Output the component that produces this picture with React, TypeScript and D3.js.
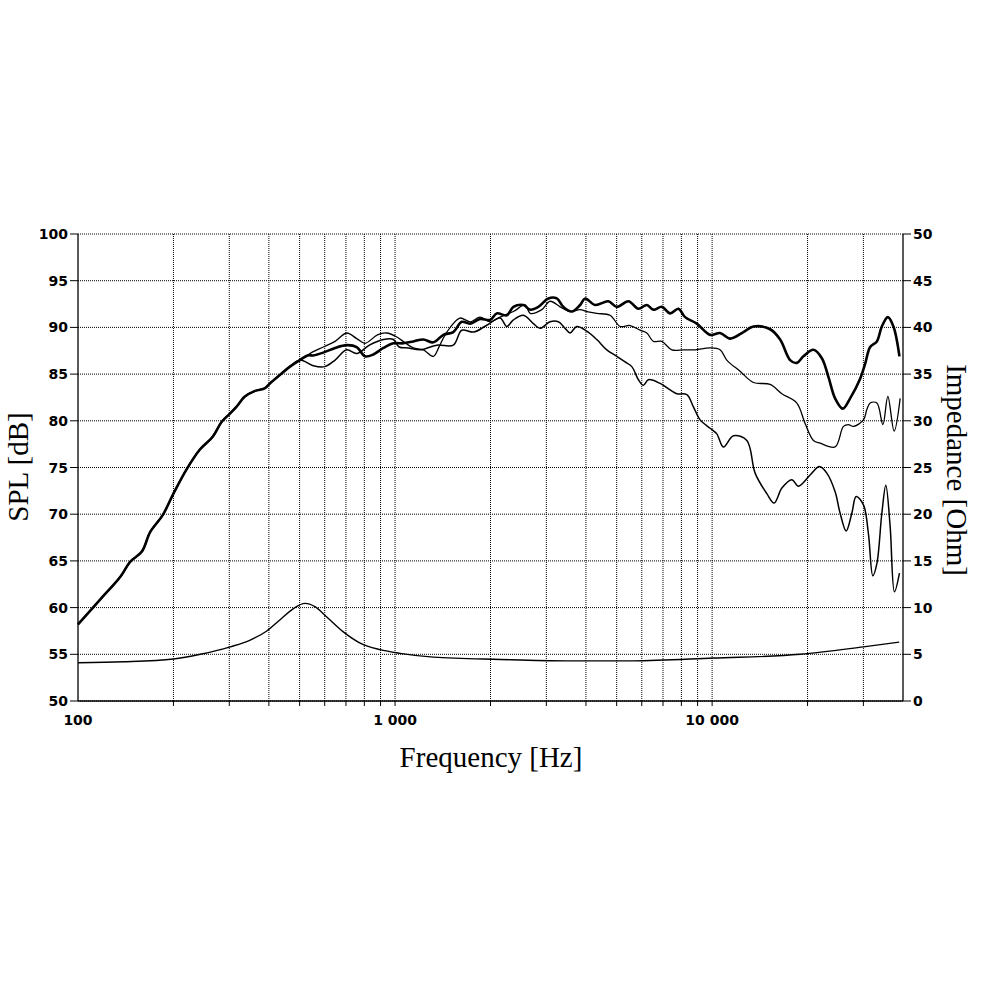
import * as d3 from "d3";

// frequency [Hz], SPL [dB]
const sharedLow: [number, number][] = [
  [100, 58.2], [117, 60.8], [136, 63.3], [146, 64.9], [159, 66.0], [169, 68.1],
  [185, 69.9], [200, 72.2], [220, 74.8], [242, 76.9], [266, 78.3], [284, 79.9],
  [302, 80.8], [316, 81.5], [336, 82.6], [362, 83.2], [389, 83.5], [403, 84.0],
  [433, 84.9], [466, 85.8], [501, 86.5],
];

const splOnAxis: [number, number][] = [
  [530, 87.0], [552, 87.0], [594, 87.3], [647, 87.8], [704, 88.1], [757, 87.9],
  [804, 86.9], [854, 87.1], [919, 87.8], [988, 88.3], [1062, 88.3], [1142, 88.5],
  [1228, 88.7], [1321, 88.4], [1420, 89.2], [1527, 89.5], [1623, 90.6], [1725, 90.4],
  [1854, 90.9], [1994, 90.8], [2093, 91.5], [2251, 91.3], [2362, 92.2], [2539, 92.4],
  [2667, 91.9], [2832, 92.2], [3045, 93.1], [3237, 93.1], [3395, 92.2], [3609, 91.7],
  [3834, 92.4], [3976, 93.1], [4275, 92.4], [4708, 92.8], [5004, 92.2], [5445, 92.8],
  [5855, 92.0], [6223, 92.4], [6530, 91.9], [6939, 92.2], [7370, 91.5], [7829, 92.0],
  [8218, 91.1], [8948, 90.4], [9856, 89.2], [10597, 89.4], [11400, 88.8], [12553, 89.5],
  [13499, 90.1], [15241, 89.8], [16390, 88.7], [17622, 86.5], [18500, 86.2], [19410, 86.9],
  [20873, 87.6], [22187, 86.7], [23272, 84.7], [24434, 82.4], [25838, 81.3], [27245, 82.4],
  [29302, 84.5], [30383, 86.1], [31509, 87.9], [33085, 88.5], [34304, 90.1], [35831, 91.1],
  [37316, 90.1], [38984, 86.9],
];

const splMid: [number, number][] = [
  [552, 87.4], [594, 87.9], [647, 88.5], [704, 89.4], [757, 88.8], [804, 88.3],
  [880, 89.2], [940, 89.4], [1010, 89.0], [1080, 88.3], [1142, 87.8], [1228, 87.6],
  [1321, 86.9], [1380, 88.0], [1450, 89.4], [1600, 91.0], [1725, 90.6], [1854, 91.1],
  [1994, 90.6], [2144, 91.1], [2362, 91.7], [2571, 92.4], [2667, 91.5], [2903, 91.9],
  [3083, 92.8], [3315, 92.2], [3565, 91.7], [3834, 91.9], [4025, 91.7], [4328, 91.5],
  [4766, 91.3], [5126, 90.1], [5513, 90.2], [5928, 89.7], [6223, 89.4], [6530, 88.5],
  [6939, 88.5], [7463, 87.6], [8118, 87.6], [8840, 87.6], [9856, 87.8], [10597, 87.6],
  [11125, 86.5], [12256, 85.3], [13499, 84.1], [15241, 83.9], [16595, 82.9], [18500, 81.9],
  [19650, 79.7], [20873, 77.9], [21913, 77.6], [24434, 77.2], [25951, 79.4], [26915, 79.6],
  [27906, 79.4], [30014, 80.1], [30763, 81.2], [31509, 81.9], [33085, 81.9], [34558, 79.6],
  [35831, 82.6], [37506, 78.9], [39183, 82.4],
];

const splLow: [number, number][] = [
  [552, 85.9], [600, 85.8], [647, 86.5], [704, 87.6], [757, 87.2], [830, 88.1],
  [919, 88.7], [988, 88.7], [1030, 87.9], [1100, 87.8], [1200, 87.6], [1354, 88.1],
  [1527, 88.1], [1623, 89.7], [1770, 89.5], [1940, 90.2], [2144, 91.0], [2251, 90.1],
  [2362, 90.8], [2539, 91.3], [2731, 90.4], [2867, 89.9], [3083, 90.6], [3274, 90.6],
  [3438, 89.9], [3565, 89.4], [3743, 90.1], [4025, 89.6], [4328, 88.7], [4653, 87.6],
  [5004, 86.9], [5316, 86.3], [5581, 85.8], [5855, 84.4], [6072, 83.8], [6296, 84.4],
  [6855, 84.0], [7370, 83.3], [7738, 82.9], [8321, 82.8], [8730, 81.5], [9165, 80.1],
  [9856, 79.2], [10346, 78.6], [10854, 77.2], [11676, 78.4], [12869, 77.9], [13665, 74.4],
  [14880, 72.2], [15690, 71.2], [16595, 72.8], [17838, 73.7], [18715, 73.0], [20375, 74.2],
  [21803, 75.1], [23001, 74.4], [24434, 72.4], [25337, 70.1], [26465, 68.2], [27586, 70.1],
  [28464, 71.9], [30014, 71.0], [31120, 67.9], [32133, 63.4], [33085, 64.7], [34304, 70.1],
  [35308, 73.1], [36434, 68.7], [37592, 61.7], [38984, 63.7],
];

// frequency [Hz], impedance [Ohm]
const impedance: [number, number][] = [
  [100, 4.1], [139, 4.2], [200, 4.5], [243, 5.0], [302, 5.8], [348, 6.5], [394, 7.5],
  [434, 8.7], [478, 9.9], [520, 10.45], [559, 10.1], [609, 9.0], [687, 7.4], [776, 6.2],
  [897, 5.5], [1037, 5.1], [1321, 4.7], [2144, 4.45], [3480, 4.3], [5633, 4.3],
  [10095, 4.6], [18950, 5.0], [30014, 5.8], [38900, 6.3],
];

const splTicks = [50, 55, 60, 65, 70, 75, 80, 85, 90, 95, 100];
const ohmTicks = [0, 5, 10, 15, 20, 25, 30, 35, 40, 45, 50];
const freqLabels: [number, string][] = [[100, "100"], [1000, "1 000"], [10000, "10 000"]];
const gridFreqs = [
  200, 300, 400, 500, 600, 700, 800, 900, 1000, 2000, 3000, 4000, 5000, 6000, 7000,
  8000, 9000, 10000, 20000, 30000,
];

const left = 78;
const right = 903;
const top = 234;
const bottom = 701;

const tickFont = { fontFamily: "DejaVu Sans", fontSize: 14, fontWeight: "bold" as const };
const titleFont = { fontFamily: "Liberation Serif", fontSize: 29 };

export default function App() {
  const x = d3.scaleLog().domain([100, 40000]).range([left, right]);
  const y = d3.scaleLinear().domain([50, 100]).range([bottom, top]);
  const yOhm = d3.scaleLinear().domain([0, 50]).range([bottom, top]);

  const spl = d3
    .line<[number, number]>()
    .x((d) => x(d[0]))
    .y((d) => y(d[1]))
    .curve(d3.curveCatmullRom.alpha(0.5));

  const imp = d3
    .line<[number, number]>()
    .x((d) => x(d[0]))
    .y((d) => yOhm(d[1]))
    .curve(d3.curveMonotoneX);

  return (
    <div style={{ position: "absolute", left: 0, top: 0 }}>
      <svg width={982} height={982} style={{ display: "block", background: "#fff" }}>
        {/* grid */}
        {splTicks.map((t) => (
          <line key={"h" + t} x1={left} x2={right} y1={y(t)} y2={y(t)}
            stroke="#000" strokeWidth={1} strokeDasharray="1 1" />
        ))}
        {gridFreqs.map((f) => (
          <line key={"v" + f} x1={x(f)} x2={x(f)} y1={top} y2={bottom}
            stroke="#000" strokeWidth={1} strokeDasharray="1 1" />
        ))}

        {/* axes */}
        <line x1={left} x2={left} y1={top} y2={bottom} stroke="#000" strokeWidth={1.3} />
        <line x1={right} x2={right} y1={top} y2={bottom} stroke="#000" strokeWidth={1.3} />
        <line x1={left} x2={right} y1={bottom} y2={bottom} stroke="#000" strokeWidth={1.3} />

        {splTicks.map((t) => (
          <g key={"l" + t}>
            <line x1={left - 8} x2={left} y1={y(t)} y2={y(t)} stroke="#000" />
            <text x={left - 10} y={y(t)} dy="0.36em" textAnchor="end" {...tickFont}>{t}</text>
          </g>
        ))}
        {ohmTicks.map((t) => (
          <g key={"r" + t}>
            <line x1={right} x2={right + 8} y1={yOhm(t)} y2={yOhm(t)} stroke="#000" />
            <text x={right + 10} y={yOhm(t)} dy="0.36em" textAnchor="start" {...tickFont}>{t}</text>
          </g>
        ))}
        {gridFreqs.map((f) => (
          <line key={"b" + f} x1={x(f)} x2={x(f)} y1={bottom} y2={bottom + 5} stroke="#000" />
        ))}
        {freqLabels.map(([f, s]) => (
          <text key={"fl" + f} x={x(f)} y={bottom + 24} textAnchor="middle" {...tickFont}>{s}</text>
        ))}

        {/* titles */}
        <text x={491} y={767} textAnchor="middle" {...titleFont}>Frequency [Hz]</text>
        <text transform={`translate(28,467) rotate(-90)`} textAnchor="middle" {...titleFont}>SPL [dB]</text>
        <text transform={`translate(947,470) rotate(90)`} textAnchor="middle" {...titleFont}>Impedance [Ohm]</text>

        {/* curves */}
        <path d={imp(impedance) ?? ""} fill="none" stroke="#000" strokeWidth={1.4} />
        <path d={spl([...sharedLow, ...splLow]) ?? ""} fill="none" stroke="#000" strokeWidth={1.5} />
        <path d={spl([...sharedLow, ...splMid]) ?? ""} fill="none" stroke="#000" strokeWidth={1.3} />
        <path d={spl([...sharedLow, ...splOnAxis]) ?? ""} fill="none" stroke="#000" strokeWidth={2.6} />
      </svg>
    </div>
  );
}
